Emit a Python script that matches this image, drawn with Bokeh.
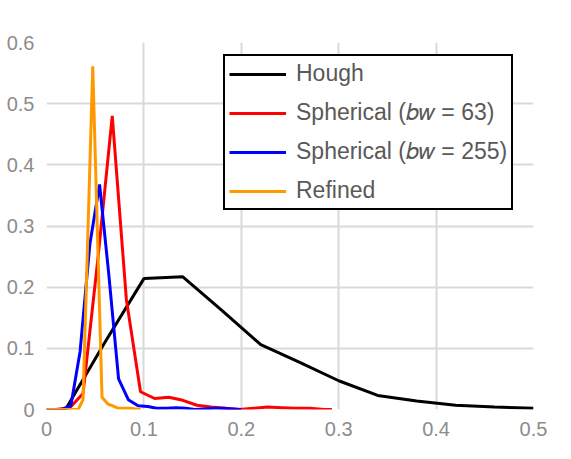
from bokeh.plotting import figure
from bokeh.models import Range1d, Legend, LegendItem
from bokeh.embed import file_html
from bokeh.resources import INLINE

# data
hough_x = [0.0195, 0.06, 0.10, 0.14, 0.18, 0.22, 0.26, 0.30, 0.34, 0.38, 0.42, 0.46, 0.50]
hough_y = [0.0, 0.11, 0.214, 0.217, 0.162, 0.106, 0.077, 0.047, 0.023, 0.014, 0.007, 0.004, 0.002]

sph63_x = [0.0, 0.0095, 0.024, 0.0375, 0.053, 0.0675, 0.082, 0.0965, 0.111, 0.1255, 0.14,
           0.1545, 0.169, 0.1835, 0.198, 0.2125, 0.227, 0.2415, 0.256, 0.2705, 0.285, 0.293]
sph63_y = [0.0, 0.0, 0.003, 0.026, 0.25, 0.48, 0.18, 0.029, 0.018, 0.020, 0.015,
           0.007, 0.004, 0.002, 0.0, 0.002, 0.004, 0.003, 0.002, 0.002, 0.0, 0.0]

sph255_x = [0.0, 0.0155, 0.025, 0.0345, 0.0445, 0.0545, 0.064, 0.074, 0.084, 0.094, 0.104,
            0.113, 0.123, 0.133, 0.143, 0.152, 0.162, 0.172, 0.182, 0.191, 0.2]
sph255_y = [0.0, 0.0, 0.006, 0.095, 0.27, 0.368, 0.22, 0.05, 0.016, 0.006, 0.005,
            0.002, 0.002, 0.003, 0.002, 0.0, 0.001, 0.002, 0.002, 0.001, 0.0]

refined_x = [0.0, 0.0325, 0.0375, 0.0475, 0.057, 0.063, 0.068, 0.074, 0.085, 0.0966]
refined_y = [0.0, 0.0, 0.016, 0.561, 0.02, 0.009, 0.006, 0.002, 0.002, 0.0]

labels = ["Hough", "Spherical (\U0001D44F\U0001D464 = 63)",
          "Spherical (\U0001D44F\U0001D464 = 255)", "Refined"]
colors = ["#000000", "#ff0000", "#0000ff", "#ff9900"]

x_ticks = [0, 0.1, 0.2, 0.3, 0.4, 0.5]
y_ticks = [0, 0.1, 0.2, 0.3, 0.4, 0.5, 0.6]

p = figure(width=555, height=443,
           x_range=Range1d(0, 0.5), y_range=Range1d(0, 0.6),
           output_backend="svg", toolbar_location=None,
           min_border_left=46, min_border_right=22,
           min_border_top=42, min_border_bottom=34)
p.outline_line_color = None

series = [(hough_x, hough_y), (sph63_x, sph63_y), (sph255_x, sph255_y), (refined_x, refined_y)]
renderers = []
for (xs, ys), c in zip(series, colors):
    renderers.append(p.line(xs, ys, line_color=c, line_width=3))

# axes
for ax in (p.xaxis, p.yaxis):
    ax.axis_line_color = None
    ax.major_tick_line_color = None
    ax.minor_tick_line_color = None
    ax.major_tick_out = 0
    ax.major_tick_in = 0
    ax.major_label_text_font = "Liberation Sans"
    ax.major_label_text_font_size = "20px"
    ax.major_label_text_color = "#8c8c8c"
    ax.major_label_overrides = {0: "0"}
p.xaxis.ticker = x_ticks
p.yaxis.ticker = y_ticks
p.xaxis.major_label_standoff = 12
p.yaxis.major_label_standoff = 12

p.grid.grid_line_color = "#d9d9d9"
p.grid.grid_line_width = 2

legend = Legend(items=[LegendItem(label=l, renderers=[r]) for l, r in zip(labels, renderers)],
                location=(177, 199))
legend.border_line_color = "black"
legend.border_line_width = 2
legend.border_line_alpha = 1
legend.background_fill_alpha = 1
legend.label_text_font = "Liberation Sans"
legend.label_text_font_size = "23px"
legend.label_text_color = "#595959"
legend.glyph_width = 57
legend.glyph_height = 26
legend.label_height = 26
legend.label_standoff = 10
legend.spacing = 12
legend.padding = 4
legend.margin = 0
p.add_layout(legend)

open("out.html", "w").write(file_html(p, INLINE))
